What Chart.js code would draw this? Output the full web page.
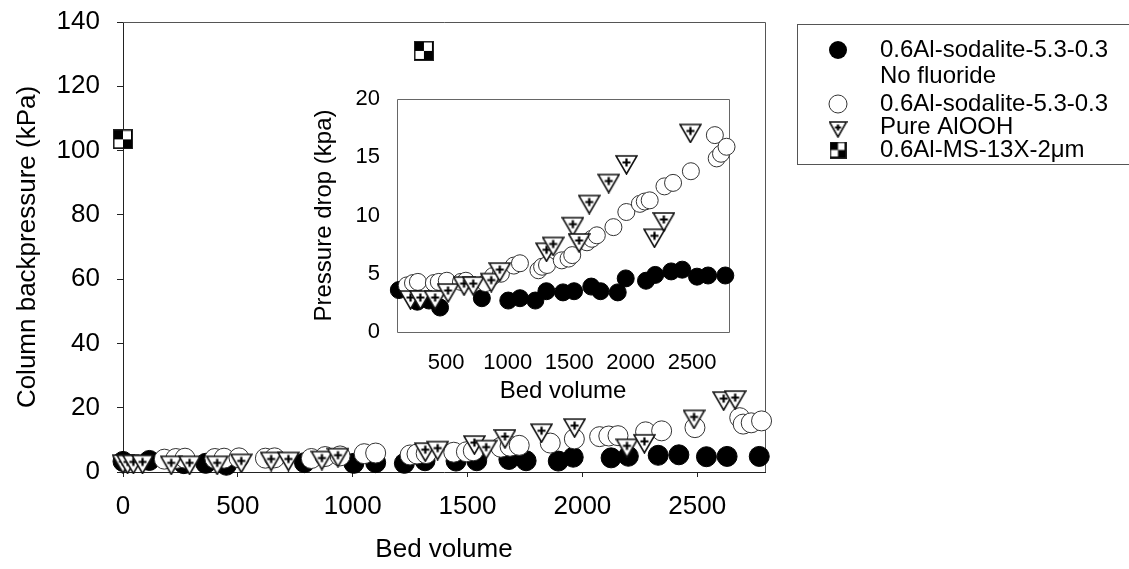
<!DOCTYPE html>
<html><head><meta charset="utf-8">
<script src="https://cdn.jsdelivr.net/npm/chart.js@4.4.1/dist/chart.umd.min.js"></script>
<style>
html,body{margin:0;padding:0;background:#fff;}
#wrap{position:relative;width:1129px;height:569px;overflow:hidden;background:#fff;}
#main{position:absolute;left:0;top:0;}
#inset{position:absolute;left:290px;top:80px;}
</style></head><body>
<div id="wrap"><canvas id="main" width="1129" height="569"></canvas><canvas id="inset" width="450" height="330"></canvas></div>
<script>
// ---------------- data ----------------
const legendLines = [
  ['0.6Al-sodalite-5.3-0.3', 'No fluoride'],
  ['0.6Al-sodalite-5.3-0.3'],
  ['Pure AlOOH'],
  ['0.6Al-MS-13X-2\u03bcm']
];
const mainXTitle = 'Bed volume';
const mainYTitle = 'Column backpressure (kPa)';
const insetXTitle = 'Bed volume';
const insetYTitle = 'Pressure drop (kpa)';

// 0.6Al-sodalite-5.3-0.3, No fluoride (filled circles)
const noFluorideBV  = [0, 115, 265, 360, 450, 790, 1005, 1100, 1225, 1315, 1450, 1540, 1680, 1755, 1895, 1960, 2125, 2200, 2330, 2420, 2540, 2630, 2770];
const noFluorideKPa = [3.3, 3.6, 2.6, 2.7, 2.1, 2.9, 2.7, 2.9, 2.7, 3.5, 3.4, 3.5, 3.9, 3.5, 3.4, 4.6, 4.4, 4.9, 5.2, 5.35, 4.75, 4.85, 4.85];

// 0.6Al-sodalite-5.3-0.3 (open circles)
const sodaliteBV  = [180, 230, 270, 400, 440, 505, 620, 660, 820, 880, 945, 1050, 1100, 1250, 1280, 1320, 1440, 1495, 1525, 1645, 1685, 1725, 1860, 1965, 2075, 2115, 2155, 2275, 2345, 2490, 2685, 2700, 2735, 2780];
const sodaliteKPa = [4.0, 4.2, 4.3, 4.2, 4.3, 4.4, 4.3, 4.4, 4.2, 4.8, 5.0, 5.7, 5.9, 5.3, 5.6, 5.75, 6.15, 6.3, 6.6, 7.7, 8.0, 8.3, 9.0, 10.3, 11.0, 11.2, 11.3, 12.5, 12.8, 13.8, 16.9, 14.9, 15.3, 15.9];

// Pure AlOOH (down triangles with plus)
const aloohBV  = [0, 20, 45, 85, 210, 290, 410, 515, 645, 720, 866, 936, 1316, 1370, 1530, 1581, 1663, 1822, 1966, 2194, 2270, 2486, 2615, 2665];
const aloohKPa = [3.4, 3.3, 3.3, 3.3, 3.0, 3.0, 3.0, 3.6, 4.2, 4.2, 4.5, 5.4, 7.1, 7.6, 9.3, 7.9, 11.2, 13.0, 14.6, 8.3, 9.7, 17.3, 23.0, 23.3];

// 0.6Al-MS-13X-2um (checkered squares)
const ms13xBV  = [0, 1310];
const ms13xKPa = [103.5, 131];

// axes
const mainXTicks = [0, 500, 1000, 1500, 2000, 2500];
const mainYTicks = [0, 20, 40, 60, 80, 100, 120, 140];
const insetXTicks = [500, 1000, 1500, 2000, 2500];
const insetYTicks = [0, 5, 10, 15, 20];

// ---------------- helpers ----------------
const FONT = '"Liberation Sans", Arial, Helvetica, sans-serif';
Chart.defaults.font.family = FONT;
Chart.defaults.color = '#000';

function pts(xs, ys) { return xs.map((x, i) => ({x: x, y: ys[i]})); }

function makeTriangle(w, h) {
  const top = Math.round(h / 3);
  const c = document.createElement('canvas');
  c.width = w + 2; c.height = top + h + 2;
  const g = c.getContext('2d');
  const y0 = top + 1;
  g.beginPath();
  g.moveTo(1, y0); g.lineTo(w + 1, y0); g.lineTo((w + 2) / 2, y0 + h); g.closePath();
  g.fillStyle = '#fff'; g.fill();
  g.strokeStyle = '#111'; g.lineWidth = 1.6; g.stroke();
  const cx = (w + 2) / 2, cy = y0 + h / 3 + 0.5;
  const a = Math.max(3, Math.round(w / 5));
  g.beginPath();
  g.moveTo(cx - a, cy); g.lineTo(cx + a, cy);
  g.moveTo(cx, cy - a); g.lineTo(cx, cy + a);
  g.strokeStyle = '#000'; g.lineWidth = 2.2; g.stroke();
  return c;
}
function makeSquare(s) {
  const c = document.createElement('canvas');
  c.width = s; c.height = s;
  const g = c.getContext('2d');
  const h = s / 2;
  g.fillStyle = '#000'; g.fillRect(0, 0, s, s);
  g.fillStyle = '#fff';
  g.fillRect(h, 1.5, h - 2, h - 1.5);
  g.fillRect(1.5, h, h - 1.5, h - 2);
  g.strokeStyle = '#222'; g.lineWidth = 1; g.strokeRect(0.5, 0.5, s - 1, s - 1);
  return c;
}
const triMain = makeTriangle(21, 18);
const triInset = makeTriangle(21, 18);
const triLegend = makeTriangle(17, 15);
const sqMain = makeSquare(20);
const sqLegend = makeSquare(17);

function datasets(filter, r, tri) {
  const f = filter || (() => true);
  return [
    {label: legendLines[3].join(' '), data: pts(ms13xBV, ms13xKPa).filter(f), pointStyle: sqMain, pointRadius: 10, order: 1, clip: false},
    {label: legendLines[2].join(' '), data: pts(aloohBV, aloohKPa).filter(f), pointStyle: tri, pointRadius: 10, order: 2, clip: false},
    {label: legendLines[1].join(' '), data: pts(sodaliteBV, sodaliteKPa).filter(f), pointStyle: 'circle', pointRadius: r, backgroundColor: '#fff', borderColor: '#333', borderWidth: 1, order: 3, clip: false},
    {label: legendLines[0].join(' '), data: pts(noFluorideBV, noFluorideKPa).filter(f), pointStyle: 'circle', pointRadius: r, backgroundColor: '#000', borderColor: '#000', borderWidth: 1, order: 4, clip: false}
  ].map(d => Object.assign({showLine: false, pointHoverRadius: d.pointRadius}, d));
}

const framePlugin = {
  id: 'frame',
  beforeDatasetsDraw(chart, args, opts) {
    const {ctx, chartArea: a} = chart;
    ctx.save();
    ctx.strokeStyle = opts.color || '#555';
    ctx.lineWidth = 1;
    ctx.beginPath();
    if (opts.full) {
      ctx.rect(Math.round(a.left) + 0.5, Math.round(a.top) + 0.5, Math.round(a.right - a.left), Math.round(a.bottom - a.top));
    } else {
      ctx.moveTo(Math.round(a.left), Math.round(a.top) + 0.5);
      ctx.lineTo(Math.round(a.right) + 0.5, Math.round(a.top) + 0.5);
      ctx.lineTo(Math.round(a.right) + 0.5, Math.round(a.bottom));
    }
    ctx.stroke();
    ctx.restore();
  }
};

const legendPlugin = {
  id: 'customLegend',
  afterDraw(chart) {
    const ctx = chart.ctx;
    ctx.save();
    ctx.strokeStyle = '#555'; ctx.lineWidth = 1;
    ctx.strokeRect(797.5, 24.5, 400, 140);
    const mx = 838, tx = 880;
    const rows = [50, 104, 127, 150];
    ctx.beginPath(); ctx.arc(mx, rows[0], 9, 0, Math.PI * 2); ctx.fillStyle = '#000'; ctx.fill();
    ctx.beginPath(); ctx.arc(mx, rows[1], 9, 0, Math.PI * 2); ctx.fillStyle = '#fff'; ctx.fill();
    ctx.strokeStyle = '#333'; ctx.stroke();
    ctx.drawImage(triLegend, mx - triLegend.width / 2, rows[2] - triLegend.height / 2);
    ctx.drawImage(sqLegend, mx - sqLegend.width / 2, rows[3] - sqLegend.height / 2);
    ctx.fillStyle = '#000';
    ctx.font = '24px ' + FONT;
    ctx.textAlign = 'left'; ctx.textBaseline = 'middle';
    ctx.fillText(legendLines[0][0], tx, rows[0]);
    ctx.fillText(legendLines[0][1], tx, 76);
    ctx.fillText(legendLines[1][0], tx, rows[1]);
    ctx.fillText(legendLines[2][0], tx, rows[2]);
    ctx.fillText(legendLines[3][0], tx, rows[3]);
    ctx.restore();
  }
};

function fixedTicks(list) {
  return function (scale) { scale.ticks = list.map(v => ({value: v})); };
}
function fitY(w) {
  return function (s) { s.width = w; s.paddingTop = 0; s.paddingBottom = 0; };
}
function fitX(h) {
  return function (s) { s.height = h; s.paddingLeft = 0; s.paddingRight = 0; };
}

// ---------------- main chart ----------------
new Chart(document.getElementById('main'), {
  type: 'scatter',
  data: {datasets: datasets(null, 10, triMain)},
  options: {
    responsive: false, animation: false, devicePixelRatio: 1,
    layout: {autoPadding: false, padding: {left: 0, top: 22, right: 364, bottom: 0}},
    plugins: {legend: {display: false}, tooltip: {enabled: false}, frame: {color: '#555'}},
    scales: {
      x: {
        type: 'linear', position: 'bottom', min: 0, max: 2795,
        afterFit: fitX(97),
        afterBuildTicks: fixedTicks(mainXTicks),
        ticks: {font: {size: 26}, color: '#000', padding: 14, maxRotation: 0, autoSkip: false, callback: v => String(v)},
        grid: {drawOnChartArea: false, drawTicks: true, tickLength: 5, color: '#222'},
        border: {display: true, color: '#222', width: 1},
        title: {display: true, text: mainXTitle, font: {size: 26}, color: '#000', padding: {top: 0, bottom: 4}}
      },
      y: {
        type: 'linear', position: 'left', min: 0, max: 140,
        afterFit: fitY(123),
        afterBuildTicks: fixedTicks(mainYTicks),
        ticks: {font: {size: 26}, color: '#000', padding: 17, autoSkip: false, callback: v => String(v)},
        grid: {drawOnChartArea: false, drawTicks: true, tickLength: 6, color: '#222'},
        border: {display: true, color: '#222', width: 1},
        title: {display: true, text: mainYTitle, font: {size: 26}, color: '#000', padding: {top: 12, bottom: 0}}
      }
    }
  },
  plugins: [framePlugin, legendPlugin]
});

// ---------------- inset chart ----------------
new Chart(document.getElementById('inset'), {
  type: 'scatter',
  data: {datasets: datasets(p => p.x >= 100 && p.y <= 20, 8.5, triInset)},
  options: {
    responsive: false, animation: false, devicePixelRatio: 1,
    layout: {autoPadding: false, padding: {left: 0, top: 19, right: 11, bottom: 0}},
    plugins: {legend: {display: false}, tooltip: {enabled: false}, frame: {color: '#666', full: true}},
    scales: {
      x: {
        type: 'linear', position: 'bottom', min: 100, max: 2800,
        afterFit: fitX(78),
        afterBuildTicks: fixedTicks(insetXTicks),
        ticks: {font: {size: 22}, color: '#000', padding: 18, maxRotation: 0, autoSkip: false, callback: v => String(v)},
        grid: {display: false, drawTicks: false},
        border: {display: false},
        title: {display: true, text: insetXTitle, font: {size: 24}, color: '#000', padding: {top: 0, bottom: 4}}
      },
      y: {
        type: 'linear', position: 'left', min: 0, max: 20,
        afterFit: fitY(107),
        afterBuildTicks: fixedTicks(insetYTicks),
        ticks: {font: {size: 22}, color: '#000', padding: 17, autoSkip: false, callback: v => String(v)},
        grid: {display: false, drawTicks: false},
        border: {display: false},
        title: {display: true, text: insetYTitle, font: {size: 24}, color: '#000', padding: {top: 20, bottom: 0}}
      }
    }
  },
  plugins: [framePlugin]
});
</script>
</body></html>
